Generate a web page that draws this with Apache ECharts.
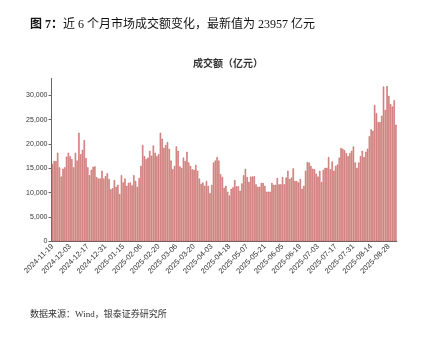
<!DOCTYPE html>
<html>
<head>
<meta charset="utf-8">
<script src="https://cdn.jsdelivr.net/npm/echarts@6/dist/echarts.min.js"></script>
<style>
  html, body { margin: 0; padding: 0; background: #fff; }
  #chart { width: 429px; height: 341px; }
</style>
</head>
<body>
<div id="chart"></div>
<script>
// Trading days per month (day of month), Nov 2024 - Sep 2025
const tradingDays = [
  ['2024-11', [19,20,21,22,25,26,27,28,29]],
  ['2024-12', [2,3,4,5,6,9,10,11,12,13,16,17,18,19,20,23,24,25,26,27,30,31]],
  ['2025-01', [2,3,6,7,8,9,10,13,14,15,16,17,20,21,22,23,24,27]],
  ['2025-02', [5,6,7,10,11,12,13,14,17,18,19,20,21,24,25,26,27,28]],
  ['2025-03', [3,4,5,6,7,10,11,12,13,14,17,18,19,20,21,24,25,26,27,28,31]],
  ['2025-04', [1,2,3,7,8,9,10,11,14,15,16,17,18,21,22,23,24,25,28,29,30]],
  ['2025-05', [6,7,8,9,12,13,14,15,16,19,20,21,22,23,26,27,28,29,30]],
  ['2025-06', [3,4,5,6,9,10,11,12,13,16,17,18,19,20,23,24,25,26,27,30]],
  ['2025-07', [1,2,3,4,7,8,9,10,11,14,15,16,17,18,21,22,23,24,25,28,29,30,31]],
  ['2025-08', [1,4,5,6,7,8,11,12,13,14,15,18,19,20,21,22,25,26,27,28,29]],
  ['2025-09', [1,2,3]]
];

// Daily turnover (亿元), one array per month
const turnoverNov24 = [15900,16500,16500,18200,15200,13300,14900,15200,17400];
const turnoverDec24 = [18200,17500,16900,15200,18200,16600,22300,17900,18800,20800,17100,15200,13600,14700,15300,15400,13200,12900,12900,14500,12900,13400];
const turnoverJan25 = [14000,12800,10700,10900,12600,11200,11600,9700,13600,12100,12900,11400,12000,12100,11500,13600,12400,11200];
const turnoverFeb25 = [13000,15500,19800,17500,16900,17200,18600,17600,19700,18200,17500,17900,22300,21100,19200,19800,20400,19000];
const turnoverMar25 = [16600,14800,15500,19500,18600,15400,15100,17200,16500,18400,16200,15500,14800,14700,15700,14500,12900,11800,12100,11400,12400];
const turnoverApr25 = [11400,9900,11600,16200,16600,17300,16600,13800,13200,11000,11400,10200,9400,10800,11100,12600,11300,11300,10400,11900,13600];
const turnoverMay25 = [14900,13200,12200,13300,13300,13400,11700,11200,11200,12000,12000,11400,10200,10200,10200,12000,11600,11600,13000];
const turnoverJun25 = [11700,11700,13200,11700,13100,14500,12800,13100,15000,12400,12400,12100,12800,10800,11400,14500,16300,16200,15500,14900];
const turnoverJul25 = [14800,13900,13300,14500,12200,14700,15100,15100,17300,14800,16400,14500,15500,15800,17200,19200,19000,18700,18100,17500,18100,18600,19500];
const turnoverAug25 = [16200,15100,16200,17500,18600,17300,18400,19000,21600,23000,22700,28000,26300,24500,24500,25800,31800,27000,31900,29900,28200];
const turnoverSep25 = [27700,29000,23957];

const yTickValues = [0,5000,10000,15000,20000,25000,30000];

const dates = [];
tradingDays.forEach(([ym, days]) => days.forEach(d => dates.push(ym + '-' + String(d).padStart(2, '0'))));
const turnover = [].concat(turnoverNov24, turnoverDec24, turnoverJan25, turnoverFeb25, turnoverMar25,
  turnoverApr25, turnoverMay25, turnoverJun25, turnoverJul25, turnoverAug25, turnoverSep25);

const chart = echarts.init(document.getElementById('chart'), null, { renderer: 'canvas' });
const serif = '"Liberation Serif", "DejaVu Serif", "Noto Sans CJK SC", serif';
const sans = '"Liberation Sans", Arial, "Noto Sans CJK SC", sans-serif';

chart.setOption({
  backgroundColor: '#fff',
  animation: false,
  title: [
    {
      left: 25, top: 14,
      text: '{b|图 7：}{n|近 6 个月市场成交额变化，最新值为 23957 亿元}',
      textStyle: {
        fontWeight: 'normal',
        rich: {
          b: { fontFamily: serif, fontSize: 12, fontWeight: 'bold', color: '#111' },
          n: { fontFamily: serif, fontSize: 12, fontWeight: 'normal', color: '#111' }
        }
      }
    },
    {
      left: 223, top: 54, textAlign: 'center',
      text: '成交额（亿元）',
      textStyle: { fontFamily: sans, fontSize: 10, fontWeight: 'bold', color: '#333' }
    },
    {
      left: 25, top: 305,
      text: '数据来源：Wind，银泰证券研究所',
      textStyle: { fontFamily: serif, fontSize: 9, fontWeight: 'normal', color: '#333' }
    }
  ],
  grid: { left: 51.5, right: 32.2, top: 78.3, bottom: 99.7, containLabel: false },
  xAxis: {
    type: 'category',
    data: dates,
    boundaryGap: true,
    axisLine: { lineStyle: { color: '#666', width: 1 } },
    axisTick: { alignWithLabel: true, interval: 9, length: 3, lineStyle: { color: '#666' } },
    axisLabel: {
      interval: 9, rotate: 45, fontSize: 7.5, color: '#333', margin: 4,
      fontFamily: sans
    },
    splitLine: { show: false }
  },
  yAxis: {
    type: 'value',
    min: 0, max: 33500,
    axisLine: { show: true, lineStyle: { color: '#666', width: 1 } },
    axisTick: { show: true, length: 3, lineStyle: { color: '#666' }, customValues: yTickValues },
    axisLabel: { fontSize: 7, color: '#333', margin: 4, fontFamily: sans, customValues: yTickValues },
    splitLine: { show: false }
  },
  series: [{
    type: 'bar',
    data: turnover,
    barCategoryGap: '22%',
    itemStyle: { color: '#dba8a6', borderColor: '#c0504d', borderWidth: 0.5 }
  }]
});
</script>
</body>
</html>
